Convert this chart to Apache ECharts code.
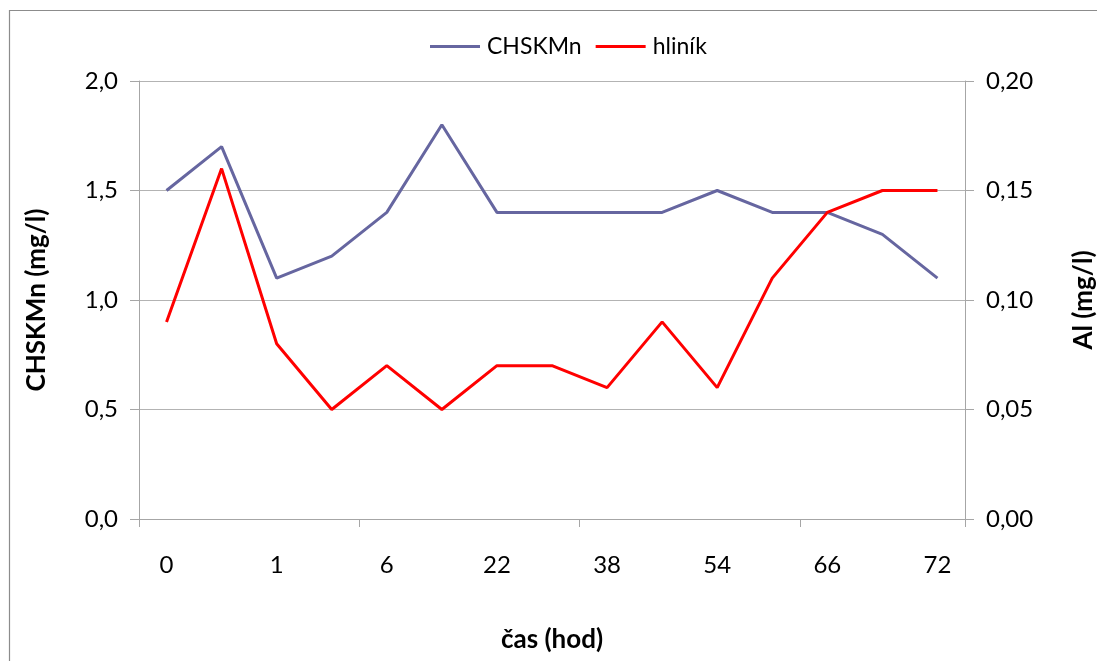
<!DOCTYPE html>
<html>
<head>
<meta charset="utf-8">
<style>
  html, body { margin: 0; padding: 0; background: #fff; overflow: hidden; }
  #chart { width: 1097px; height: 661px; display: block; }
</style>
<script src="https://cdn.jsdelivr.net/npm/echarts@6/dist/echarts.min.js"></script>
</head>
<body>
<div id="chart"></div>
<script>
// sampling times (hours); only every other one is labelled on the axis
const times = ['0', '0,5', '1', '3', '6', '12', '22', '30', '38', '46', '54', '60', '66', '70', '72'];
// chemical oxygen demand (CHSK Mn), mg/l
const chskmn = [1.5, 1.7, 1.1, 1.2, 1.4, 1.8, 1.4, 1.4, 1.4, 1.4, 1.5, 1.4, 1.4, 1.3, 1.1];
// aluminium, mg/l
const hlinik = [0.09, 0.16, 0.08, 0.05, 0.07, 0.05, 0.07, 0.07, 0.06, 0.09, 0.06, 0.11, 0.14, 0.15, 0.15];

const FONT = 'Lato, "Open Sans", sans-serif';
const AXIS_GRAY = '#a6a6a6';
const comma = (d) => (v) => v.toFixed(d).replace('.', ',');

const chart = echarts.init(document.getElementById('chart'), null, { renderer: 'canvas', width: 1097, height: 661 });
chart.setOption({
  animation: false,
  backgroundColor: '#ffffff',
  textStyle: { fontFamily: FONT, color: '#000' },
  graphic: [{
    type: 'rect',
    shape: { x: 9.5, y: 10.5, width: 1100, height: 660 },
    style: { fill: 'none', stroke: '#8c8c8c', lineWidth: 1.2 },
    silent: true
  }],
  legend: {
    left: 425,
    top: 30,
    icon: 'rect',
    itemWidth: 50,
    itemHeight: 3,
    itemGap: 14,
    textStyle: { fontFamily: FONT, fontSize: 23, color: '#000', padding: [0, 0, 0, 2] },
    data: ['CHSKMn', 'hliník']
  },
  grid: { left: 139, right: 132, top: 81, bottom: 142, containLabel: false, outerBoundsMode: 'none' },
  xAxis: {
    type: 'category',
    data: times,
    boundaryGap: true,
    name: 'čas (hod)',
    nameLocation: 'middle',
    nameGap: 108,
    nameTextStyle: { fontFamily: FONT, fontSize: 26, fontWeight: 'bold', color: '#000' },
    axisLine: { lineStyle: { color: AXIS_GRAY, width: 1 } },
    axisTick: { show: true, length: 8, inside: false, interval: (i) => i % 4 === 0, lineStyle: { color: AXIS_GRAY } },
    axisLabel: { interval: 1, margin: 34, fontSize: 24, color: '#000', fontFamily: FONT },
    splitLine: { show: false }
  },
  yAxis: [{
    type: 'value',
    min: 0, max: 2, interval: 0.5,
    position: 'left',
    name: 'CHSKMn (mg/l)',
    nameLocation: 'middle',
    nameRotate: 90,
    nameGap: 89,
    nameTextStyle: { fontFamily: FONT, fontSize: 26, fontWeight: 'bold', color: '#000' },
    axisLine: { show: true, lineStyle: { color: AXIS_GRAY, width: 1 } },
    axisTick: { show: true, length: 9, inside: false, lineStyle: { color: AXIS_GRAY } },
    axisLabel: { margin: 21, fontSize: 24, color: '#000', fontFamily: FONT, formatter: comma(1) },
    splitLine: { show: true, lineStyle: { color: '#b3b3b3', width: 1 } }
  }, {
    type: 'value',
    min: 0, max: 0.2, interval: 0.05,
    position: 'right',
    name: 'Al (mg/l)',
    nameLocation: 'middle',
    nameRotate: 90,
    nameGap: 106,
    nameTextStyle: { fontFamily: FONT, fontSize: 26, fontWeight: 'bold', color: '#000' },
    axisLine: { show: true, lineStyle: { color: AXIS_GRAY, width: 1 } },
    axisTick: { show: true, length: 9, inside: false, lineStyle: { color: AXIS_GRAY } },
    axisLabel: { margin: 21, fontSize: 24, color: '#000', fontFamily: FONT, formatter: comma(2) },
    splitLine: { show: false }
  }],
  series: [{
    name: 'CHSKMn',
    type: 'line',
    yAxisIndex: 0,
    data: chskmn,
    symbol: 'none',
    lineStyle: { color: '#6666a0', width: 3 },
    itemStyle: { color: '#6666a0' }
  }, {
    name: 'hliník',
    type: 'line',
    yAxisIndex: 1,
    data: hlinik,
    symbol: 'none',
    lineStyle: { color: '#ff0000', width: 3 },
    itemStyle: { color: '#ff0000' }
  }]
});
</script>
</body>
</html>
